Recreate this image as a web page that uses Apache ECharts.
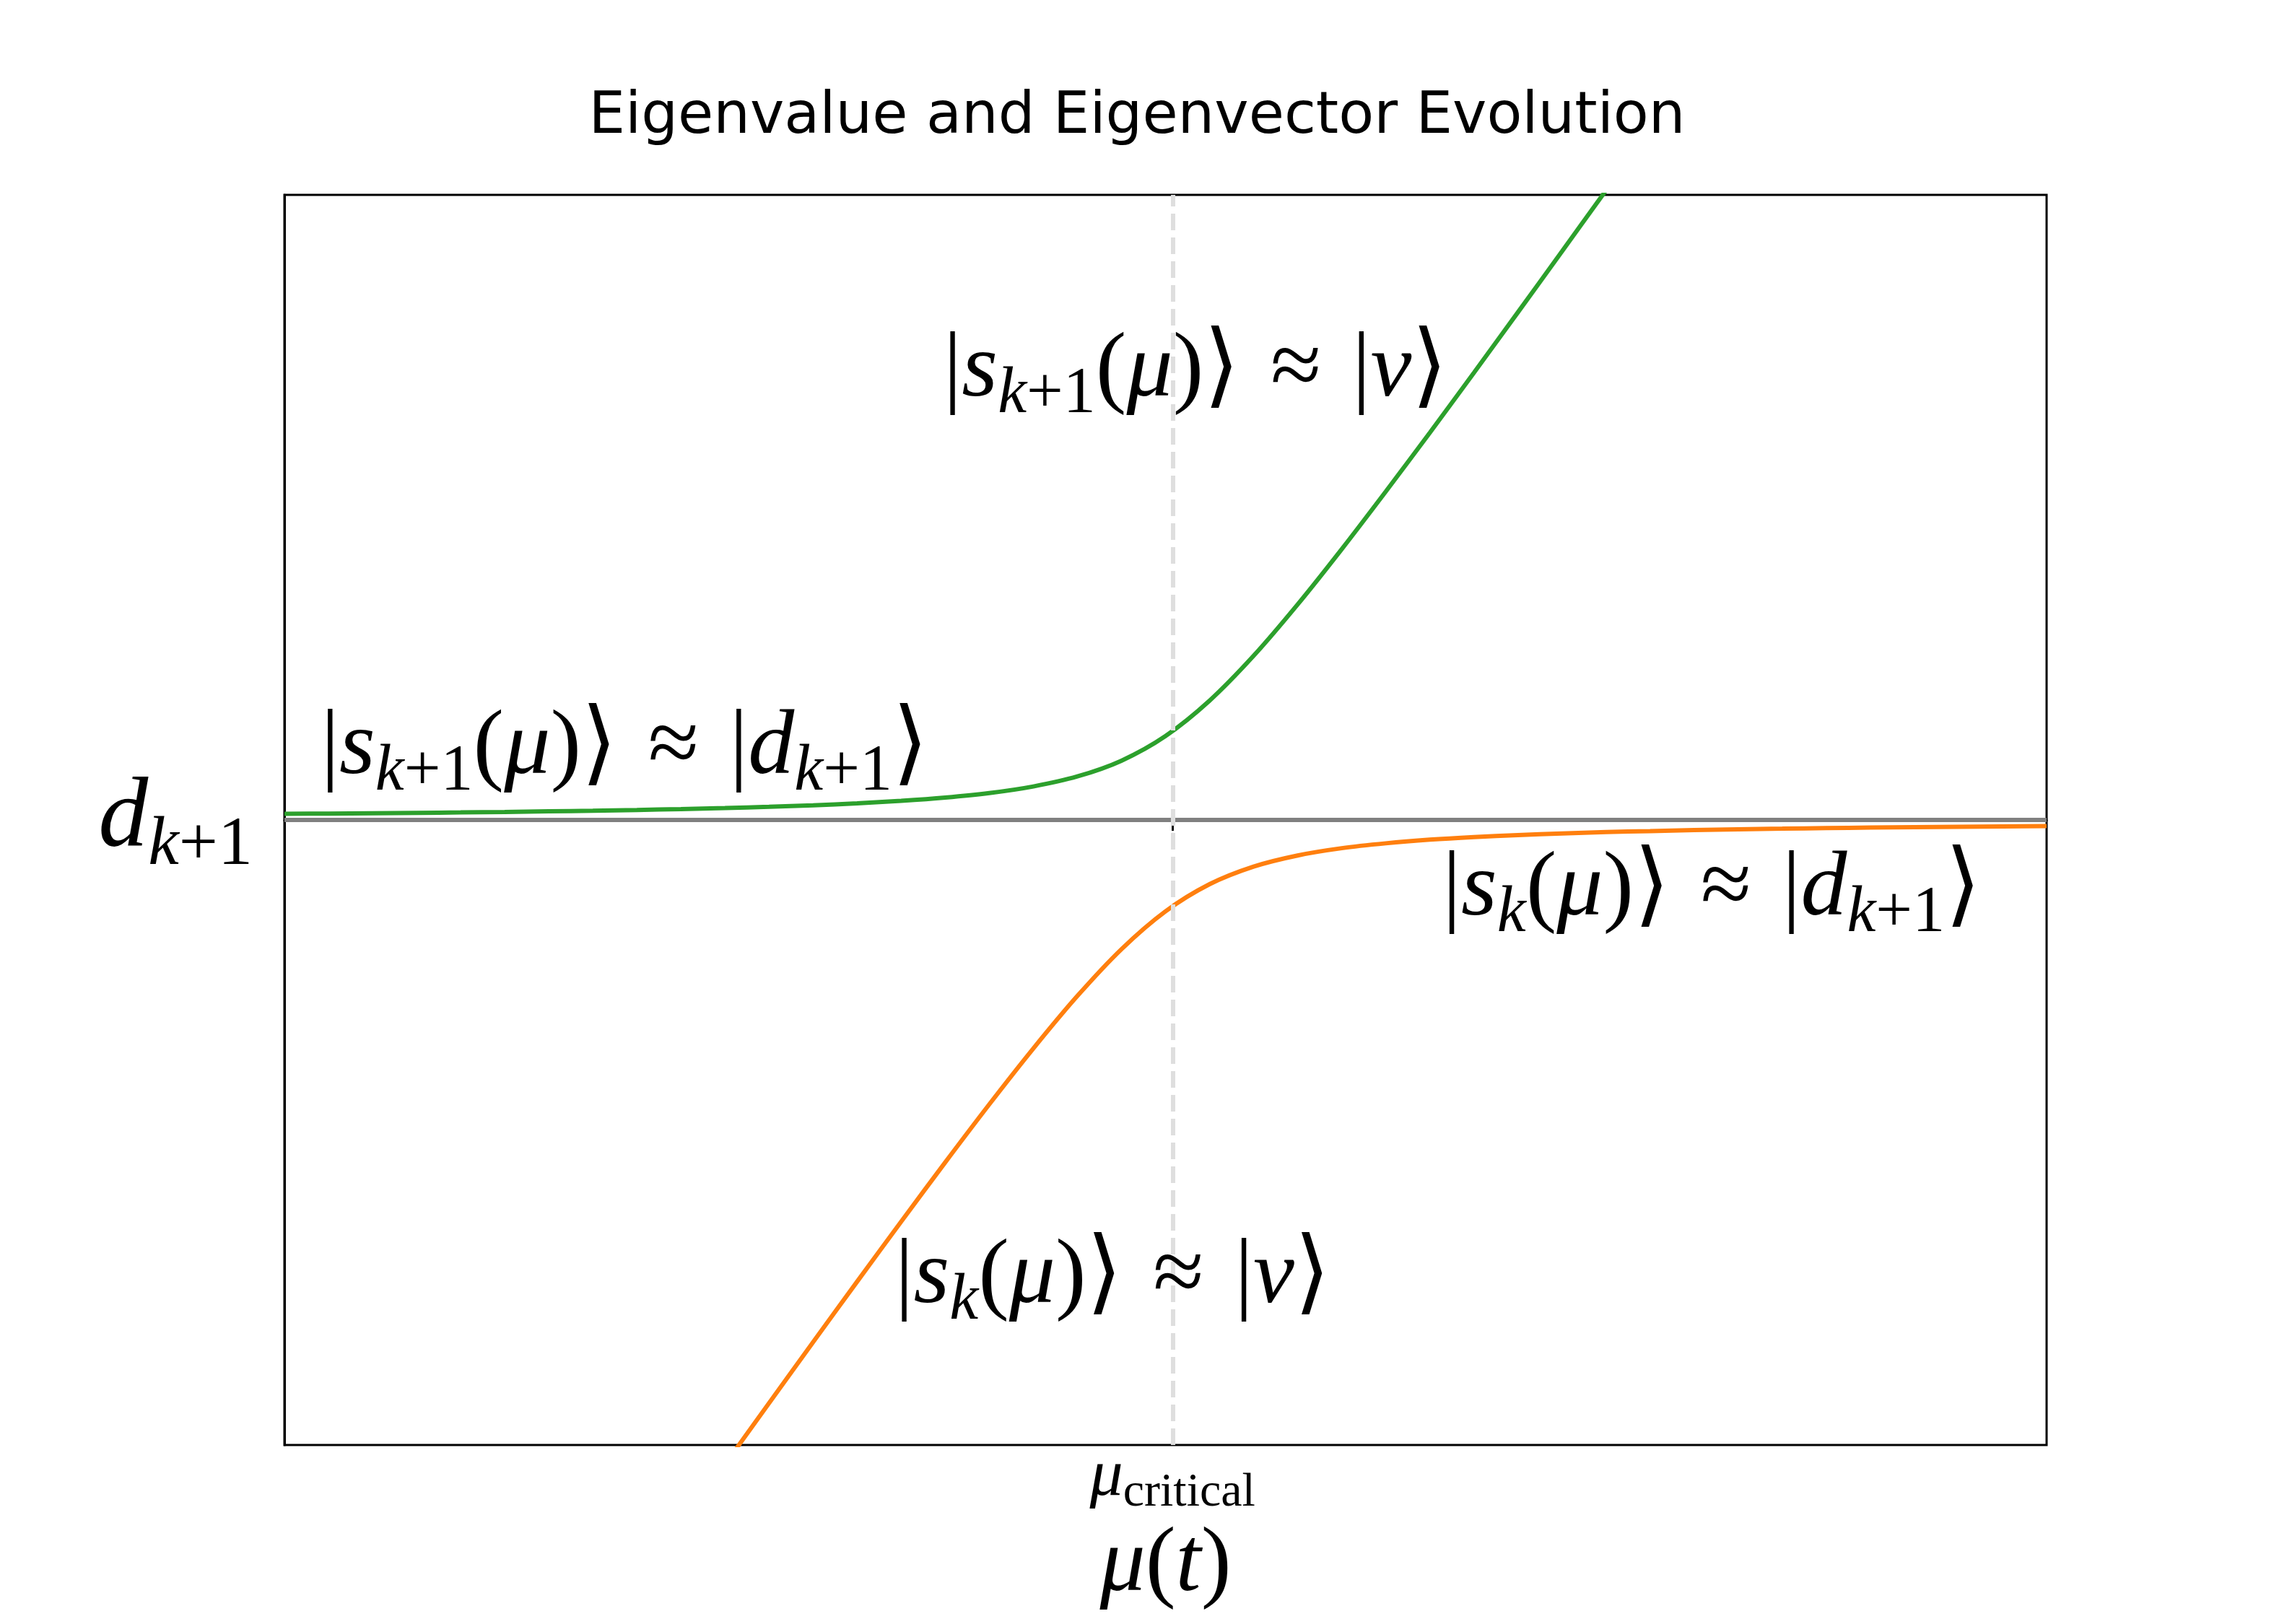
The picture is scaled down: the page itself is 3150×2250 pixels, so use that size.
<!DOCTYPE html>
<html>
<head>
<meta charset="utf-8">
<title>Eigenvalue and Eigenvector Evolution</title>
<script src="https://cdn.jsdelivr.net/npm/echarts@6/dist/echarts.min.js"></script>
<style>
    html, body { margin: 0; padding: 0; background: #fff; }
    #eigen_chart { width: 3150px; height: 2250px; }
</style>
</head>
<body>
<div id="eigen_chart"></div>
<script>
// values (x: mu, y: eigenvalue relative to d_{k+1})
const muUpper = [0, 0.25, 0.5, 0.75, 1, 1.25, 1.5, 1.75, 2, 2.25, 2.5, 2.75, 3, 3.25, 3.5, 3.75,
    4, 4.25, 4.5, 4.75, 5, 5.25, 5.5, 5.75, 6, 6.25, 6.5, 6.75, 7, 7.25, 7.5];
const upperBranch = [0.049, 0.051, 0.054, 0.057, 0.060, 0.064, 0.069, 0.074, 0.080, 0.087, 0.095, 0.105, 0.117, 0.133, 0.153, 0.179,
    0.215, 0.268, 0.348, 0.474, 0.671, 0.954, 1.313, 1.724, 2.166, 2.627, 3.098, 3.577, 4.061, 4.548, 5.037];
const muLower = [2.5, 2.75, 3, 3.25, 3.5, 3.75, 4, 4.25, 4.5, 4.75, 5, 5.25, 5.5, 5.75, 6, 6.25,
    6.5, 6.75, 7, 7.25, 7.5, 7.75, 8, 8.25, 8.5, 8.75, 9, 9.25, 9.5, 9.75, 10];
const lowerBranch = [-5.155, -4.665, -4.177, -3.693, -3.213, -2.739, -2.275, -1.828, -1.408, -1.034, -0.731, -0.514, -0.373, -0.284, -0.226, -0.187,
    -0.158, -0.137, -0.121, -0.108, -0.097, -0.089, -0.081, -0.075, -0.070, -0.065, -0.061, -0.058, -0.055, -0.052, -0.049];
const muRange = [0, 10];
const levelRange = [-5, 5];
const dLevel = 0;
const muCritical = 5.04;

const MATH = "'Liberation Serif', 'DejaVu Serif', 'DejaVu Sans', serif";
const APPROX = ' \u200a≈\u200a ';

function zip(xs, ys) {
    return xs.map((x, i) => [x, ys[i]]);
}

// rich styles for the big ket labels
const ketRich = {
    r: { fontFamily: MATH, fontSize: 128, color: '#000', verticalAlign: 'middle' },
    i: { fontFamily: MATH, fontSize: 128, fontStyle: 'italic', color: '#000', verticalAlign: 'middle' },
    si: { fontFamily: MATH, fontSize: 90, fontStyle: 'italic', color: '#000', verticalAlign: 'middle', padding: [66, 0, 0, 0] },
    sr: { fontFamily: MATH, fontSize: 90, color: '#000', verticalAlign: 'middle', padding: [66, 0, 0, 0] }
};

function ket(coord, text) {
    return {
        coord: coord,
        symbol: 'circle',
        symbolSize: 0,
        label: {
            show: true,
            position: 'inside',
            formatter: text,
            rich: ketRich
        }
    };
}

let chart = echarts.init(document.getElementById('eigen_chart'));

const option = {
    animation: false,
    backgroundColor: '#fff',
    title: {
        text: 'Eigenvalue and Eigenvector Evolution',
        left: 'center',
        top: 118,
        textStyle: {
            fontFamily: 'DejaVu Sans',
            fontSize: 80,
            fontWeight: 'normal',
            color: '#000'
        }
    },
    grid: {
        left: 394,
        right: 315,
        top: 270,
        bottom: 248,
        show: true,
        borderColor: '#000',
        borderWidth: 3
    },
    xAxis: {
        type: 'value',
        min: muRange[0],
        max: muRange[1],
        splitLine: { show: false },
        axisLine: { show: true, lineStyle: { color: '#000', width: 3 } },
        axisTick: {
            show: true,
            customValues: [muCritical],
            length: 15,
            lineStyle: { color: '#000', width: 3 }
        },
        axisLabel: {
            customValues: [muCritical],
            margin: -10,
            formatter: () => '{m|μ}{c|critical}',
            rich: {
                m: { fontFamily: MATH, fontSize: 92, fontStyle: 'italic', color: '#000', verticalAlign: 'middle' },
                c: { fontFamily: MATH, fontSize: 66, color: '#000', verticalAlign: 'middle', padding: [44, 0, 0, 0] }
            }
        },
        name: '{m|μ}{r|(}{m|t}{r|)}',
        nameLocation: 'middle',
        nameGap: 78,
        nameTextStyle: {
            rich: {
                m: { fontFamily: MATH, fontSize: 126, fontStyle: 'italic', color: '#000' },
                r: { fontFamily: MATH, fontSize: 126, color: '#000' }
            }
        }
    },
    yAxis: {
        type: 'value',
        min: levelRange[0],
        max: levelRange[1],
        splitLine: { show: false },
        axisLine: { show: true, lineStyle: { color: '#000', width: 3 } },
        axisTick: { show: false },
        axisLabel: {
            customValues: [dLevel],
            margin: 44,
            formatter: () => '{d|d}{k|k}{p|+1}',
            rich: {
                d: { fontFamily: MATH, fontSize: 138, fontStyle: 'italic', color: '#000', verticalAlign: 'middle' },
                k: { fontFamily: MATH, fontSize: 96, fontStyle: 'italic', color: '#000', verticalAlign: 'middle', padding: [72, 0, 0, 0] },
                p: { fontFamily: MATH, fontSize: 96, color: '#000', verticalAlign: 'middle', padding: [72, 0, 0, 0] }
            }
        }
    },
    series: [
        {
            name: 'critical',
            type: 'line',
            data: [],
            z: 1,
            markLine: {
                silent: true,
                symbol: ['none', 'none'],
                label: { show: false },
                lineStyle: { color: '#dedede', width: 6, type: [23, 10] },
                data: [{ xAxis: muCritical }]
            }
        },
        {
            name: 'd_k+1',
            type: 'line',
            data: [[muRange[0], dLevel], [muRange[1], dLevel]],
            symbol: 'none',
            z: 2,
            lineStyle: { color: '#808080', width: 6 }
        },
        {
            name: 'upper',
            type: 'line',
            data: zip(muUpper, upperBranch),
            symbol: 'none',
            smooth: 0.3,
            z: 3,
            lineStyle: { color: '#2ca02c', width: 6 }
        },
        {
            name: 'lower',
            type: 'line',
            data: zip(muLower, lowerBranch),
            symbol: 'none',
            smooth: 0.3,
            z: 3,
            lineStyle: { color: '#ff7f0e', width: 6 }
        },
        {
            name: 'labels',
            type: 'scatter',
            data: [],
            z: 4,
            markPoint: {
                silent: true,
                data: [
                    ket([5.17, 3.59], '{r||}{i|s}{si|k}{sr|+1}{r|(}{i|μ}{r|)⟩' + APPROX + '|}{i|v}{r|⟩}'),
                    ket([1.93, 0.57], '{r||}{i|s}{si|k}{sr|+1}{r|(}{i|μ}{r|)⟩' + APPROX + '|}{i|d}{si|k}{sr|+1}{r|⟩}'),
                    ket([8.10, -0.56], '{r||}{i|s}{si|k}{r|(}{i|μ}{r|)⟩' + APPROX + '|}{i|d}{si|k}{sr|+1}{r|⟩}'),
                    ket([4.70, -3.66], '{r||}{i|s}{si|k}{r|(}{i|μ}{r|)⟩' + APPROX + '|}{i|v}{r|⟩}')
                ]
            }
        }
    ]
};

chart.setOption(option);

window.addEventListener('resize', function () {
    chart.resize();
});
</script>
</body>
</html>
